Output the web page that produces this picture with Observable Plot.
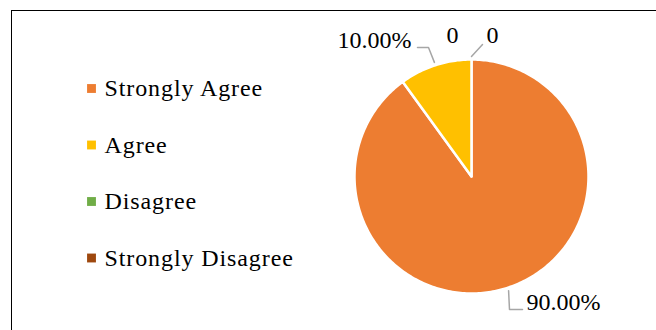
<!DOCTYPE html>
<html>
<head>
<meta charset="utf-8">
<script src="https://cdn.jsdelivr.net/npm/d3@7"></script>
<script src="https://cdn.jsdelivr.net/npm/@observablehq/plot@0.6"></script>
<style>
  html, body { margin: 0; padding: 0; background: #fff; }
  #wrap { position: relative; width: 656px; height: 330px; overflow: hidden; }
  #frame { position: absolute; left: 11px; top: 10px; width: 700px; height: 400px;
           border-left: 1.5px solid #000; border-top: 1.5px solid #000; box-sizing: border-box; }
  #chart { position: absolute; left: 0; top: 0; }
  .legend-text text { letter-spacing: 0.9px; }
</style>
</head>
<body>
<div id="wrap"><div id="frame"></div><div id="chart"></div></div>
<script>
// ---- data ----
const categories = ["Strongly Agree", "Agree", "Disagree", "Strongly Disagree"];
const values = [90, 10, 0, 0];            // percent
const colors = ["#ED7D31", "#FFC000", "#70AD47", "#9E480E"];

// ---- layout ----
const W = 656, H = 330;
const cx = 471, cy = 176, R = 117;
const legendX = 91, legendY0 = 88, legendStep = 56.5;
const FS = 24;
// label anchor positions (layout), and leader elbows
const labelPos = [
  {x: 526, y: 302, anchor: "start", elbow: [[509, 309], [522, 309]]},
  {x: 411, y: 40, anchor: "end", elbow: [[428, 47], [417, 47]]},
  {x: 452, y: 35, anchor: "middle", elbow: null},
  {x: 492, y: 35, anchor: "middle", elbow: [[482, 44]]}
];

const fmt = v => v === 0 ? "0" : (v).toFixed(2) + "%";

// pie geometry via d3.pie (clockwise from 12 o'clock)
const arcs = d3.pie().sort(null).startAngle(0).endAngle(2 * Math.PI)(values);
const pt = (a, r) => ({x: cx + r * Math.sin(a), y: cy - r * Math.cos(a)});

const slicePts = [];
arcs.forEach((a, i) => {
  if (a.value <= 0) return;
  const cat = categories[i];
  slicePts.push({cat, ...pt(0, 0)});
  const n = Math.max(2, Math.ceil((a.endAngle - a.startAngle) / (Math.PI / 180)));
  for (let k = 0; k <= n; k++) {
    const t = a.startAngle + (a.endAngle - a.startAngle) * k / n;
    slicePts.push({cat, ...pt(t, R)});
  }
  slicePts.push({cat, ...pt(0, 0)});
});

const leaderPts = [];
arcs.forEach((a, i) => {
  const lp = labelPos[i];
  if (!lp.elbow) return;
  const mid = (a.startAngle + a.endAngle) / 2;
  leaderPts.push({k: i, ...pt(mid, R + 3)});
  lp.elbow.forEach(([x, y]) => leaderPts.push({k: i, x, y}));
});

const labels = categories.map((c, i) => ({
  cat: c, text: fmt(values[i]), x: labelPos[i].x, y: labelPos[i].y, anchor: labelPos[i].anchor
}));

const legend = categories.map((c, i) => ({cat: c, x: legendX, y: legendY0 + i * legendStep}));

const font = "Liberation Serif";
const chart = Plot.plot({
  width: W, height: H, margin: 0,
  x: {domain: [0, W], range: [0, W], axis: null},
  y: {domain: [0, H], range: [0, H], axis: null},
  color: {domain: categories, range: colors},
  style: {fontFamily: font, background: "transparent", overflow: "visible"},
  marks: [
    Plot.line(slicePts, {x: "x", y: "y", z: "cat", fill: "cat", stroke: "white", strokeWidth: 2.5, curve: "linear", strokeLinejoin: "round"}),
    Plot.line(leaderPts, {x: "x", y: "y", z: "k", stroke: "#A6A6A6", strokeWidth: 1.5}),
    Plot.text(labels.filter(d => d.anchor === "start"), {x: "x", y: "y", text: "text", textAnchor: "start", fontSize: FS, fill: "#000"}),
    Plot.text(labels.filter(d => d.anchor === "end"), {x: "x", y: "y", text: "text", textAnchor: "end", fontSize: FS, fill: "#000"}),
    Plot.text(labels.filter(d => d.anchor === "middle"), {x: "x", y: "y", text: "text", textAnchor: "middle", fontSize: FS, fill: "#000"}),
    Plot.dot(legend, {x: "x", y: "y", fill: "cat", symbol: "square", r: 5}),
    Plot.text(legend, {x: "x", y: "y", text: "cat", dx: 13, textAnchor: "start", fontSize: FS, fill: "#000", className: "legend-text"})
  ]
});
document.getElementById("chart").appendChild(chart);
</script>
</body>
</html>
